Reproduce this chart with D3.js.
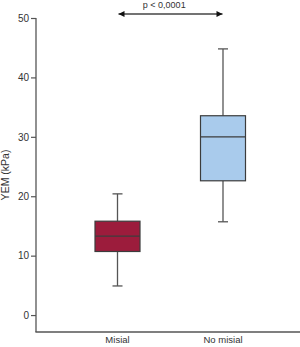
<!DOCTYPE html>
<html><head><meta charset="utf-8">
<script src="https://cdn.jsdelivr.net/npm/d3@7/dist/d3.min.js"></script>
<style>body{margin:0;background:#fff}svg{display:block}text{font-family:"Liberation Sans",Arial,sans-serif;fill:#333}</style>
</head><body><svg id="c" width="300" height="347"></svg>
<script>
const categories = ["Misial", "No misial"];
const whiskerLow = [4.9, 15.7];
const q1 = [10.7, 22.6];
const median = [13.3, 30.0];
const q3 = [15.8, 33.55];
const whiskerHigh = [20.4, 44.8];
const fills = ["#9c1c3c", "#a9cbec"];
const yTicks = [0, 10, 20, 30, 40, 50];
const yLabel = "YEM (kPa)";
const pLabel = "p < 0,0001";

const svg = d3.select("#c");
const y = d3.scaleLinear().domain([-2.85, 50]).range([332, 18]);
const x = d3.scalePoint().domain(categories).range([117.5, 223]);
const boxW = 45, capW = 10;
const stroke = "#3c3c3c";

// y axis
const ya = svg.append("g").attr("transform", "translate(36,0)")
  .call(d3.axisLeft(y).tickValues(yTicks).tickSize(5).tickPadding(2).tickSizeOuter(0));
ya.select(".domain").remove();
ya.selectAll(".tick line").attr("stroke", "#555").attr("stroke-width", 1.2);
ya.selectAll(".tick text").attr("font-size", 10).attr("fill", "#444").style("font-family", '"Liberation Sans",Arial,sans-serif');
svg.append("line").attr("x1", 36).attr("x2", 36).attr("y1", y(50)).attr("y2", y.range()[0])
  .attr("stroke", "#555").attr("stroke-width", 1.3);
svg.append("line").attr("x1", 35.4).attr("x2", 300).attr("y1", y.range()[0]).attr("y2", y.range()[0])
  .attr("stroke", "#555").attr("stroke-width", 1.3);

// x labels
svg.selectAll(".xl").data(categories).enter().append("text")
  .attr("x", d => x(d)).attr("y", 343).attr("text-anchor", "middle")
  .attr("font-size", 9.5).text(d => d);

// y label
svg.append("text").attr("transform", `translate(9,${(y(50)+y.range()[0])/2}) rotate(-90)`)
  .attr("text-anchor", "middle").attr("font-size", 10.5).attr("fill", "#444").text(yLabel);

// boxes
categories.forEach((c, i) => {
  const cx = x(c);
  const g = svg.append("g");
  g.append("line").attr("x1", cx).attr("x2", cx).attr("y1", y(whiskerHigh[i])).attr("y2", y(q3[i]))
    .attr("stroke", "#555").attr("stroke-width", 1.3);
  g.append("line").attr("x1", cx).attr("x2", cx).attr("y1", y(q1[i])).attr("y2", y(whiskerLow[i]))
    .attr("stroke", "#555").attr("stroke-width", 1.3);
  [whiskerHigh[i], whiskerLow[i]].forEach(v => {
    g.append("line").attr("x1", cx - capW/2).attr("x2", cx + capW/2).attr("y1", y(v)).attr("y2", y(v))
      .attr("stroke", "#555").attr("stroke-width", 1.3);
  });
  g.append("rect").attr("x", cx - boxW/2).attr("y", y(q3[i])).attr("width", boxW)
    .attr("height", y(q1[i]) - y(q3[i])).attr("fill", fills[i]).attr("stroke", stroke).attr("stroke-width", 1.2);
  g.append("line").attr("x1", cx - boxW/2).attr("x2", cx + boxW/2).attr("y1", y(median[i])).attr("y2", y(median[i]))
    .attr("stroke", stroke).attr("stroke-width", 1.2);
});

// significance arrow
const defs = svg.append("defs");
defs.append("marker").attr("id", "ah").attr("viewBox", "0 0 10 10").attr("refX", 10).attr("refY", 5)
  .attr("markerWidth", 9).attr("markerHeight", 6).attr("markerUnits", "userSpaceOnUse").attr("orient", "auto-start-reverse")
  .append("path").attr("d", "M0,0L10,5L0,10Z").attr("fill", "#111");
const ay = 14;
svg.append("line").attr("x1", x(categories[0]) + 1).attr("x2", x(categories[1]) - 0.5)
  .attr("y1", ay).attr("y2", ay).attr("stroke", "#444").attr("stroke-width", 1.3)
  .attr("marker-start", "url(#ah)").attr("marker-end", "url(#ah)");
svg.append("text").attr("x", (x(categories[0]) + x(categories[1])) / 2 - 6).attr("y", 8)
  .attr("text-anchor", "middle").attr("font-size", 9).text(pLabel);
</script></body></html>
